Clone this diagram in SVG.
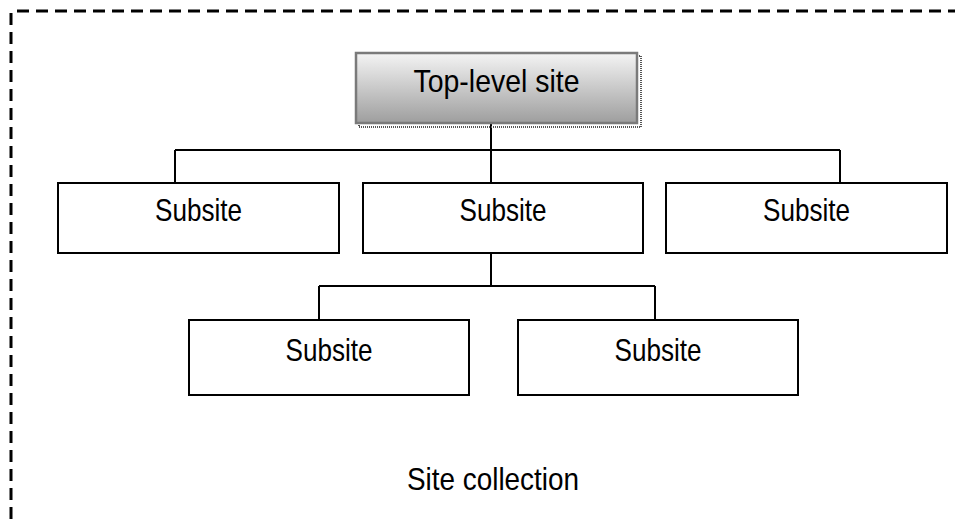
<svg xmlns="http://www.w3.org/2000/svg" width="955" height="521" viewBox="0 0 955 521">
<style>
.box{fill:#fff;stroke:#000;stroke-width:2}
.lbl{font-family:"Liberation Sans",Arial,sans-serif;font-size:32px;fill:#000;text-anchor:middle}
.conn{fill:none;stroke:#000;stroke-width:2}
.frame{fill:none;stroke:#000;stroke-width:3;stroke-dasharray:12 7}
</style>
<defs>
<linearGradient id="g" x1="0" y1="0" x2="0" y2="1">
<stop offset="0" stop-color="#f4f4f4"/>
<stop offset="1" stop-color="#9e9e9e"/>
</linearGradient>
</defs>
<g id="frame">
<line class="frame" x1="17" y1="11" x2="955" y2="11"/>
<line class="frame" x1="11" y1="13" x2="11" y2="521"/>
</g>
<g id="connectors">
<path class="conn" d="M491 123V150M175 150H840M175 150V183M491 150V183M840 150V183"/>
<path class="conn" d="M491 253V286M319 286H655M319 286V320M655 286V320"/>
</g>
<g id="top">
<rect x="359" y="56" width="282" height="71" fill="none" stroke="#555" stroke-width="2" stroke-dasharray="1 1"/>
<rect x="356" y="53" width="281" height="70" fill="url(#g)" stroke="#7a7a7a" stroke-width="2.5"/>
<text class="lbl" x="496.5" y="92" textLength="166" lengthAdjust="spacingAndGlyphs">Top-level site</text>
</g>
<g id="s1">
<rect class="box" x="58" y="183" width="281" height="70"/>
<text class="lbl" x="198.5" y="221" textLength="87" lengthAdjust="spacingAndGlyphs">Subsite</text>
</g>
<g id="s2">
<rect class="box" x="363" y="183" width="280" height="70"/>
<text class="lbl" x="503" y="221" textLength="87" lengthAdjust="spacingAndGlyphs">Subsite</text>
</g>
<g id="s3">
<rect class="box" x="666" y="183" width="281" height="70"/>
<text class="lbl" x="806.5" y="221" textLength="87" lengthAdjust="spacingAndGlyphs">Subsite</text>
</g>
<g id="s4">
<rect class="box" x="189" y="320" width="280" height="75"/>
<text class="lbl" x="329" y="361" textLength="87" lengthAdjust="spacingAndGlyphs">Subsite</text>
</g>
<g id="s5">
<rect class="box" x="518" y="320" width="280" height="75"/>
<text class="lbl" x="658" y="361" textLength="87" lengthAdjust="spacingAndGlyphs">Subsite</text>
</g>
<g id="caption">
<text class="lbl" x="493" y="490" textLength="172" lengthAdjust="spacingAndGlyphs">Site collection</text>
</g>
</svg>
